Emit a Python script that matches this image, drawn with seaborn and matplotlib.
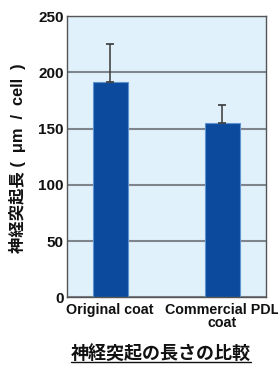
import matplotlib
matplotlib.use("Agg")
import matplotlib.pyplot as plt
import seaborn as sns
import pandas as pd
from matplotlib.lines import Line2D

categories = ["Original coat", "Commercial PDL\ncoat"]
values = [191.5, 154.8]
errors = [33.5, 16.5]
yticks = [0, 50, 100, 150, 200, 250]
ylabel = "神経突起長 (  μm  /  cell  )"
title = "神経突起の長さの比較"

sns.set_theme(style="white")
plt.rcParams['font.family'] = ['Liberation Sans', 'Noto Sans CJK JP', 'DejaVu Sans']

df = pd.DataFrame({"cat": categories, "val": values, "err": errors})

fig = plt.figure(figsize=(2.78, 3.65), dpi=100)
ax = fig.add_axes([67/278, 1-297.4/365, 199/278, (297.4-16)/365])
ax.set_facecolor("#E1F1FC")

ax.set_axisbelow(True)
ax.yaxis.grid(True, color="#7E858C", linewidth=1.5)
ax.xaxis.grid(False)

sns.barplot(data=df, x="cat", y="val", color="#0B4A9C", width=0.31,
            edgecolor="#5E93CF", linewidth=0.8, saturation=1, ax=ax, errorbar=None)
ax.errorbar(range(len(categories)), df["val"], yerr=[[0]*len(errors), df["err"]],
            fmt="none", ecolor="#3A3A3A", elinewidth=1.1, capsize=2.8, capthick=1.2, zorder=1.5)

ax.set_ylim(0, 250)
ax.set_xlim(-0.385, 1.39)
ax.set_yticks(yticks)
ax.set_yticklabels([str(t) for t in yticks])
ax.tick_params(axis="both", length=0, colors="#111111")
ax.tick_params(axis="y", pad=2.5, labelsize=11)
ax.tick_params(axis="x", pad=4, labelsize=10.3)
for lbl in ax.get_xticklabels() + ax.get_yticklabels():
    lbl.set_fontweight("bold")
    lbl.set_linespacing(0.9)
ax.set_xlabel("")
ax.set_ylabel("")
yl = fig.text(17/278, 1-158/365, ylabel, rotation=90, ha="center", va="center",
              fontsize=11, fontweight="bold", color="#111111")

for s in ax.spines.values():
    s.set_color("#555555")
    s.set_linewidth(1.0)

t = fig.text(161/278, 1-354/365, title, ha="center", va="center",
             fontsize=13, fontweight="bold", color="#111111")
fig.canvas.draw()
# scale y-label so its length matches ~196 px
h = yl.get_window_extent().height
yl.set_fontsize(11 * 196 / h * 0.97)
fig.canvas.draw()
bb = t.get_window_extent()
fig.add_artist(Line2D([bb.x0/278, bb.x1/278], [(bb.y0+1)/365, (bb.y0+1)/365],
                      color="#111111", linewidth=1.0, transform=fig.transFigure))

fig.savefig("out.png", dpi=100)
